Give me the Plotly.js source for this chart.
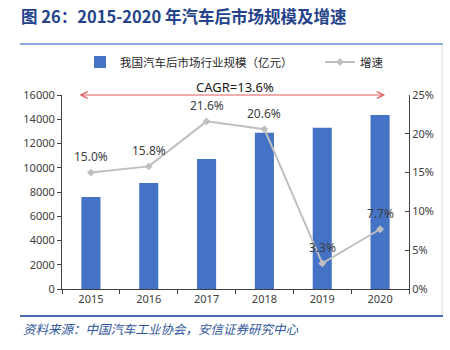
<!DOCTYPE html>
<html>
<head>
<meta charset="utf-8">
<script src="https://cdn.plot.ly/plotly-3.0.1.min.js"></script>
<style>html,body{margin:0;padding:0;background:#fff;}#chart{width:450px;height:350px;}</style>
</head>
<body>
<div id="chart"></div>
<script>
const years = ['2015', '2016', '2017', '2018', '2019', '2020'];
const marketSize = [7590, 8740, 10720, 12890, 13300, 14350];
const growth = [0.150, 0.158, 0.216, 0.206, 0.033, 0.077];
const growthLabels = ['15.0%', '15.8%', '21.6%', '20.6%', '3.3%', '7.7%'];
const barName = '我国汽车后市场行业规模（亿元）';
const lineName = '增速';
const cagrText = 'CAGR=13.6%';
const titleText = '图 26：2015-2020 年汽车后市场规模及增速';
const sourceText = '资料来源：中国汽车工业协会，安信证券研究中心';

const W = 450, H = 350;
const L = 62, R = 41, T = 95, B = 61;
const pw = W - L - R, ph = H - T - B;
const px = x => (x - L) / pw;
const py = y => (H - B - y) / ph;

const tickFont = {family: '"Noto Sans", "Noto Sans CJK SC", sans-serif', size: 11, color: '#404040'};

const traces = [
  {
    type: 'bar', x: years, y: marketSize, name: barName,
    marker: {color: '#4472C4'}, xaxis: 'x', yaxis: 'y', legend: 'legend'
  },
  {
    type: 'scatter', mode: 'lines+markers', x: years, y: growth, name: lineName,
    line: {color: '#BFBFBF', width: 2},
    marker: {symbol: 'diamond', size: 6, color: '#BFBFBF'},
    xaxis: 'x', yaxis: 'y2', legend: 'legend2'
  }
];

const annotations = years.map((yr, i) => ({
  x: i, y: growth[i], xref: 'x', yref: 'y2',
  text: growthLabels[i], showarrow: false, yshift: 16,
  font: {family: '"Noto Sans", sans-serif', size: 12, color: '#404040'}
}));

annotations.push({
  xref: 'paper', yref: 'paper', x: px(385), y: py(95),
  axref: 'pixel', ayref: 'pixel', ax: -(385 - 78), ay: 0,
  text: '', showarrow: true, arrowside: 'end+start', arrowhead: 5,
  arrowsize: 1.3, arrowwidth: 1, arrowcolor: '#E35B5B', standoff: 0, startstandoff: 0
});
annotations.push({
  xref: 'paper', yref: 'paper', x: px(235), y: py(87),
  text: cagrText, showarrow: false, xanchor: 'center', yanchor: 'middle',
  font: {family: '"Noto Sans", sans-serif', size: 13, color: '#1a1a1a'}
});
annotations.push({
  xref: 'paper', yref: 'paper', x: px(21), y: py(328),
  text: sourceText, showarrow: false, xanchor: 'left', yanchor: 'middle',
  font: {family: '"Noto Sans CJK SC", sans-serif', size: 12.5, color: '#2E5597', style: 'italic'}
});

const shapes = [
  {type: 'line', xref: 'paper', yref: 'paper', x0: px(20), x1: px(443), y0: py(44), y1: py(44),
   line: {color: '#8EA9DB', width: 2}},
  {type: 'line', xref: 'paper', yref: 'paper', x0: px(20), x1: px(443), y0: py(316), y1: py(316),
   line: {color: '#4A6FB5', width: 2}},
  {type: 'line', xref: 'paper', yref: 'paper', x0: px(442), x1: px(442), y0: py(45), y1: py(315),
   line: {color: '#D9D9D9', width: 1}}
];

const legendFont = {family: '"Noto Sans CJK SC", sans-serif', size: 11.5, color: '#262626'};

const layout = {
  width: W, height: H,
  margin: {l: L, r: R, t: T, b: B},
  paper_bgcolor: '#fff', plot_bgcolor: '#fff',
  title: {
    text: titleText, x: 21 / W, xanchor: 'left', y: 1 - 17 / H, yanchor: 'middle', yref: 'container',
    font: {family: '"Noto Sans CJK SC", sans-serif', size: 16.5, color: '#24438A', weight: 'bold'}
  },
  bargap: 0.67,
  showlegend: true,
  legend: {
    orientation: 'h', x: px(80), xanchor: 'left', y: py(62), yanchor: 'middle',
    font: legendFont, itemwidth: 30, bgcolor: 'rgba(0,0,0,0)'
  },
  legend2: {
    orientation: 'h', x: px(320), xanchor: 'left', y: py(62), yanchor: 'middle',
    font: legendFont, itemwidth: 30, bgcolor: 'rgba(0,0,0,0)'
  },
  xaxis: {
    type: 'category', range: [-0.5, 5.5], autorange: false,
    showline: true, linecolor: '#404040', linewidth: 1,
    ticks: 'outside', tickson: 'boundaries', ticklen: 4, tickcolor: '#404040',
    tickfont: tickFont, showgrid: false, zeroline: false, tickangle: 0
  },
  yaxis: {
    range: [0, 16000], autorange: false, dtick: 2000, tickformat: 'd',
    showline: true, linecolor: '#404040', linewidth: 1,
    ticks: 'outside', ticklen: 4, tickcolor: '#404040', tickfont: tickFont,
    showgrid: false, zeroline: false
  },
  yaxis2: {
    range: [0, 0.25], autorange: false, dtick: 0.05, tickformat: '.0%', overlaying: 'y', side: 'right',
    showline: true, linecolor: '#404040', linewidth: 1,
    ticks: 'inside', ticklen: 4, tickcolor: '#404040', tickfont: tickFont,
    showgrid: false, zeroline: false
  },
  annotations: annotations,
  shapes: shapes
};

Plotly.newPlot('chart', traces, layout, {displayModeBar: false, staticPlot: true});
</script>
</body>
</html>
